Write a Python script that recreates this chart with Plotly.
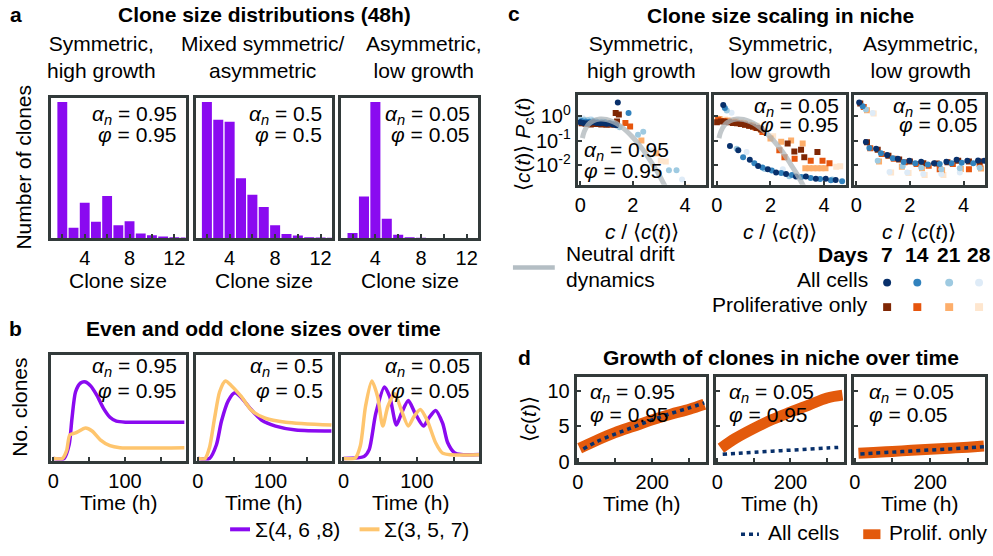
import plotly.graph_objects as go

W, H = 993, 556
FONT = "Liberation Sans, Arial, sans-serif"
BOX = "#323a3a"
PURPLE = "#8a0af0"
YELLOW = "#fec56e"
NAVY = "#08306b"
ORANGE = "#e35a0c"
GRAY = "#aeb6ba"
BLUES = ["#08306b", "#3182bd", "#9ecae1", "#deebf7"]
ORANGES = ["#7f2704", "#e6550d", "#fdae6b", "#fee6ce"]

# ---------------- panel a : clone size distributions ----------------
clone_sizes = [2, 3, 4, 5, 6, 7, 8, 9, 10, 11, 12, 13]
dist_sym = [1.0, 0.077, 0.26, 0.12, 0.31, 0.096, 0.125, 0.034, 0.022, 0.012, 0.007, 0.005]
dist_mixed = [1.0, 0.87, 0.855, 0.44, 0.32, 0.23, 0.096, 0.031, 0.019, 0.007, 0.005, 0.003]
dist_asym = [0.039, 0.306, 1.0, 0.142, 0.026, 0.007, 0.003, 0.0, 0.0, 0.0, 0.0, 0.0]
a_ticks = [4, 8, 12]
a_minor = [2, 6, 10]

# ---------------- panel b : even / odd clone sizes over time ----------------
b1_even_t = [0, 15, 22, 26, 31, 38, 45, 52, 61, 70, 79, 88, 102, 183]
b1_even_y = [0, 0, 0.14, 0.41, 0.68, 0.77, 0.78, 0.74, 0.64, 0.51, 0.42, 0.38, 0.37, 0.37]
b1_odd_t = [0, 12.5, 18.5, 23, 31, 45, 54, 65.5, 79, 93, 183]
b1_odd_y = [0, 0, 0.08, 0.24, 0.26, 0.31, 0.28, 0.19, 0.13, 0.11, 0.11]
b2_even_t = [0, 16, 25.6, 32.5, 42, 51, 60, 72, 88, 107, 135, 184]
b2_even_y = [0, 0, 0.14, 0.38, 0.59, 0.67, 0.62, 0.51, 0.39, 0.33, 0.29, 0.28]
b2_odd_t = [0, 10, 16, 23, 30, 38, 46.5, 60, 74, 93, 121, 184]
b2_odd_y = [0, 0, 0.11, 0.41, 0.68, 0.79, 0.74, 0.63, 0.49, 0.41, 0.37, 0.34]
b3_even_t = [0, 28, 35, 44, 55.8, 63, 72, 79, 88.3, 97.6, 109, 116, 125.5, 135, 142, 151, 160, 186]
b3_even_y = [0, 0.02, 0.09, 0.46, 0.73, 0.63, 0.34, 0.46, 0.59, 0.46, 0.33, 0.41, 0.49, 0.36, 0.16, 0.06, 0.04, 0.04]
b3_odd_t = [0, 16, 23, 30, 38.6, 46.5, 53.5, 60.4, 69.7, 79, 88.3, 96.2, 104.6, 114, 125.5, 135, 146, 186]
b3_odd_y = [0, 0.005, 0.13, 0.53, 0.79, 0.63, 0.33, 0.53, 0.66, 0.49, 0.33, 0.43, 0.50, 0.39, 0.16, 0.054, 0.037, 0.037]
b_ticks = [0, 100]
b_minor = [50, 150]

# ---------------- panel c : clone size scaling ----------------
neutral_x = [0.08, 0.15, 0.3, 0.5, 0.75, 1.0, 1.25, 1.5, 1.75, 2.0, 2.25, 2.5, 2.75, 3.0, 3.25, 3.4]
neutral_y = [0.125, 0.23, 0.44, 0.64, 0.75, 0.72, 0.58, 0.41, 0.25, 0.135, 0.066, 0.029, 0.011, 0.0041, 0.0013, 0.0007]
days = ["7", "14", "21", "28"]

c1_all_x = [[0.0, 0.12, 0.25, 0.37, 0.5, 0.62, 0.75, 0.87, 1.0, 1.12, 1.25, 1.37, 1.43],
            [0.05, 0.2, 0.35, 0.5, 0.65, 0.8, 0.95, 1.1, 1.25, 1.84],
            [0.0, 0.15, 0.3, 0.45, 0.6, 0.9, 1.2, 1.5, 2.2, 2.4, 3.38, 3.67],
            [0.1, 0.4, 0.8, 1.2, 2.7, 3.88]]
c1_all_y = [[0.55, 0.52, 0.5, 0.52, 0.55, 0.52, 0.5, 0.52, 0.48, 0.5, 0.45, 0.42, 3.5],
            [0.62, 0.6, 0.58, 0.6, 0.57, 0.55, 0.55, 0.5, 0.47, 1.33],
            [0.72, 0.7, 0.68, 0.66, 0.62, 0.58, 0.5, 0.35, 0.17, 0.23, 0.0062, 0.0062],
            [0.8, 0.75, 0.65, 0.55, 0.04, 0.0026]]
c1_pro_x = [[0.05, 0.2, 0.4, 0.6, 0.8, 1.0, 1.2, 1.35, 1.47, 1.4],
            [0.1, 0.3, 0.5, 0.7, 0.9, 1.1, 1.3, 1.72, 1.9],
            [0.15, 0.45, 0.75, 1.05, 1.35, 2.33, 2.9],
            [0.2, 0.6, 1.0, 3.07, 3.26, 4.06]]
c1_pro_y = [[0.5, 0.48, 0.45, 0.47, 0.45, 0.44, 0.45, 1.33, 1.14, 0.6],
            [0.55, 0.5, 0.5, 0.48, 0.47, 0.46, 0.45, 0.51, 0.37],
            [0.6, 0.55, 0.52, 0.5, 0.45, 0.1, 0.03],
            [0.7, 0.6, 0.55, 0.015, 0.014, 0.0013]]

c2_all_x = [[0.24, 0.49, 0.8, 1.23, 1.54, 1.9, 2.21, 2.58, 2.95, 3.32, 3.69, 4.06, 4.43],
            [0.3, 0.98, 1.4, 1.7, 2.05, 2.4, 2.8, 3.15, 3.5, 3.85, 4.25, 4.67],
            [0.37, 0.74, 1.78, 2.7, 4.3],
            [0.55, 1.11, 2.46, 3.07]]
c2_all_y = [[2.8, 0.06, 0.04, 0.0166, 0.0093, 0.0068, 0.005, 0.0043, 0.0034, 0.0034, 0.0028, 0.0028, 0.0025],
            [2.1, 0.021, 0.012, 0.008, 0.006, 0.0048, 0.004, 0.0033, 0.003, 0.0027, 0.0024, 0.0022],
            [1.66, 0.046, 0.007, 0.0035, 0.0026],
            [1.35, 0.034, 0.0068, 0.003]]
c2_pro_x = [[0.0, 0.15, 0.3, 0.45, 0.6, 0.75, 0.9, 1.05, 1.2, 1.35, 1.5, 1.65, 2.64, 2.89, 3.14, 3.26, 3.75],
            [0.05, 0.25, 0.45, 0.65, 0.85, 1.05, 1.25, 1.45, 1.7, 2.33, 2.52, 2.9, 3.5, 3.94, 4.2],
            [0.1, 0.4, 0.7, 1.0, 1.3, 1.6, 2.0, 2.4, 2.77, 3.2, 3.3, 3.45, 3.6, 3.75, 3.9, 4.05],
            [0.0, 0.3, 0.6, 0.9, 1.2, 1.5, 2.1, 4.45, 4.6]]
c2_pro_y = [[0.55, 0.6, 0.58, 0.55, 0.52, 0.5, 0.47, 0.44, 0.4, 0.36, 0.32, 0.28, 0.075, 0.036, 0.042, 0.021, 0.034],
            [0.7, 0.62, 0.58, 0.55, 0.5, 0.45, 0.4, 0.33, 0.22, 0.04, 0.021, 0.018, 0.015, 0.015, 0.012],
            [0.75, 0.65, 0.6, 0.52, 0.42, 0.3, 0.12, 0.089, 0.1, 0.075, 0.0075, 0.0075, 0.0075, 0.0075, 0.0075, 0.0075],
            [0.8, 0.72, 0.65, 0.58, 0.5, 0.4, 0.15, 0.0085, 0.009]]

c3_all_x = [[0.11, 0.36, 0.74, 1.15, 1.55, 1.98, 2.42, 2.9, 3.36, 3.74, 4.14, 4.54, 4.77],
            [0.24, 0.49, 0.92, 1.36, 1.77, 2.2, 2.67, 3.11, 3.55, 3.93, 4.36],
            [0.36, 0.8, 1.73, 2.42, 3.17, 3.86, 4.6],
            [0.61, 1.24, 1.9, 2.5, 3.17, 3.86]]
c3_all_y = [[3.5, 0.088, 0.046, 0.026, 0.018, 0.015, 0.0137, 0.012, 0.0137, 0.0166, 0.015, 0.0155, 0.015],
            [2.5, 0.05, 0.03, 0.019, 0.0135, 0.012, 0.0105, 0.011, 0.012, 0.0125, 0.012],
            [1.82, 0.015, 0.0089, 0.008, 0.0068, 0.0075, 0.0078],
            [1.33, 0.0053, 0.005, 0.0043, 0.0043, 0.005]]
c3_pro_x = [[0.15, 0.4, 0.8, 1.2, 1.6, 2.0, 2.5, 3.0, 3.4, 3.8, 4.2, 4.6],
            [0.28, 0.52, 0.95, 1.4, 1.8, 2.25, 2.7, 3.11, 3.6, 4.2, 4.6],
            [0.4, 0.85, 1.7, 2.45, 3.2, 3.9, 4.65],
            [0.65, 1.3, 1.95, 2.55, 3.25]]
c3_pro_y = [[3.2, 0.085, 0.042, 0.024, 0.017, 0.014, 0.012, 0.0115, 0.013, 0.015, 0.014, 0.014],
            [2.3, 0.048, 0.028, 0.018, 0.013, 0.011, 0.0095, 0.0068, 0.011, 0.0068, 0.011],
            [1.7, 0.014, 0.0085, 0.0075, 0.0062, 0.007, 0.0072],
            [1.25, 0.005, 0.0048, 0.004, 0.004]]
c_ticks = [0, 2, 4]
c_yticks = [1, 0.1, 0.01]
c_yticktext = ["10<sup>0</sup>", "10<sup>-1</sup>", "10<sup>-2</sup>"]

# ---------------- panel d : growth of clones ----------------
d1_pro_t = [5, 50, 100, 150, 200, 250, 300, 340]
d1_pro_y = [1.9, 3.0, 4.1, 5.0, 5.9, 6.7, 7.4, 8.1]
d1_all_t = [15, 50, 100, 150, 200, 250, 300, 340]
d1_all_y = [1.8, 2.8, 3.9, 4.9, 5.9, 6.8, 7.6, 8.3]
d2_pro_t = [10, 50, 100, 150, 200, 250, 300, 342]
d2_pro_y = [1.9, 3.3, 4.7, 5.95, 7.0, 8.0, 9.0, 9.4]
d2_all_t = [15, 60, 100, 150, 200, 250, 300, 342]
d2_all_y = [1.05, 1.2, 1.33, 1.48, 1.63, 1.78, 1.93, 2.05]
d3_pro_t = [10, 50, 100, 150, 200, 250, 300, 342]
d3_pro_y = [1.2, 1.3, 1.45, 1.6, 1.75, 1.9, 2.05, 2.2]
d3_all_t = [15, 50, 100, 150, 200, 250, 300, 342]
d3_all_y = [1.1, 1.2, 1.35, 1.5, 1.65, 1.8, 1.95, 2.1]
d_ticks = [0, 200]
d_minor = [100, 300]
d_yticks = [0, 5, 10]

params_a = [("0.95", "0.95"), ("0.5", "0.5"), ("0.05", "0.05")]
params_c = [("0.95", "0.95"), ("0.05", "0.95"), ("0.05", "0.05")]

# ---------------- layout helpers ----------------
def fx(px):
    return px / W

def fy(py):
    return 1 - py / H

boxes = {
    1: (47.3, 182.3, 100, 243), 2: (192.3, 329.3, 100, 243), 3: (338.5, 476, 100, 243),
    4: (47.3, 182.3, 362, 470), 5: (192.3, 329.3, 362, 470), 6: (338.5, 477, 362, 470),
    7: (576, 705, 96.7, 188.5), 8: (713, 845, 96.7, 188.5), 9: (853, 985, 96.7, 188.5),
    10: (575, 705, 385, 471), 11: (715, 843, 385, 471), 12: (853, 985, 385, 471),
}

def nm(i):
    return "" if i == 1 else str(i)

tickfont = dict(size=20, color="black", family=FONT)
layout = dict(width=W, height=H, autosize=False, margin=dict(l=0, r=0, t=0, b=0),
              paper_bgcolor="white", plot_bgcolor="white", showlegend=False,
              bargap=0.12, font=dict(family=FONT, color="black"))

def minor(vals):
    return dict(tickmode="array", tickvals=vals, ticks="inside", ticklen=4, tickwidth=2,
                tickcolor=BOX, showgrid=False)

for i, (l, r, t, b) in boxes.items():
    xa = dict(domain=[fx(l), fx(r)], anchor="y" + nm(i), showline=True, mirror=True,
              linewidth=3, linecolor=BOX, showgrid=False, zeroline=False,
              ticks="inside", ticklen=4, tickwidth=2, tickcolor=BOX, tickfont=tickfont,
              fixedrange=True)
    ya = dict(domain=[fy(b), fy(t)], anchor="x" + nm(i), showline=True, mirror=True,
              linewidth=3, linecolor=BOX, showgrid=False, zeroline=False,
              ticks="inside", ticklen=4, tickwidth=2, tickcolor=BOX, tickfont=tickfont,
              fixedrange=True)
    if i <= 3:
        xa.update(range=[1, 13], tickmode="array", tickvals=a_ticks,
                  ticktext=[str(v) for v in a_ticks], minor=minor(a_minor))
        ya.update(range=[0, 1.03], ticks="", showticklabels=False)
    elif i <= 6:
        xa.update(range=[-3.2, 184.7], tickmode="array", tickvals=b_ticks,
                  ticktext=[str(v) for v in b_ticks], minor=minor(b_minor))
        ya.update(range=[-0.023, 1.057], ticks="", showticklabels=False)
    elif i <= 9:
        xa.update(range=[-0.1, 4.8], tickmode="array", tickvals=c_ticks,
                  ticktext=[str(v) for v in c_ticks])
        ya.update(type="log", range=[-2.8, 0.86], tickmode="array", tickvals=c_yticks,
                  ticktext=c_yticktext, showticklabels=(i == 7))
    else:
        xa.update(range=[-3, 345], tickmode="array", tickvals=d_ticks,
                  ticktext=[str(v) for v in d_ticks], minor=minor(d_minor))
        ya.update(range=[0, 11.9], tickmode="array", tickvals=d_yticks,
                  ticktext=[str(v) for v in d_yticks], showticklabels=(i == 10))
    layout["xaxis" + nm(i)] = xa
    layout["yaxis" + nm(i)] = ya

fig = go.Figure()

def add(trace, i):
    trace.update(xaxis="x" + nm(i), yaxis="y" + nm(i), hoverinfo="skip")
    fig.add_trace(trace)

# panel a bars
for i, d in zip([1, 2, 3], [dist_sym, dist_mixed, dist_asym]):
    add(go.Bar(x=clone_sizes, y=d, marker=dict(color=PURPLE, line=dict(width=0))), i)

# panel b lines
for i, (et, ey, ot, oy) in zip([4, 5, 6], [(b1_even_t, b1_even_y, b1_odd_t, b1_odd_y),
                                          (b2_even_t, b2_even_y, b2_odd_t, b2_odd_y),
                                          (b3_even_t, b3_even_y, b3_odd_t, b3_odd_y)]):
    add(go.Scatter(x=et, y=ey, mode="lines", line=dict(color=PURPLE, width=3.5, shape="spline", smoothing=0.7)), i)
    add(go.Scatter(x=ot, y=oy, mode="lines", line=dict(color=YELLOW, width=3.5, shape="spline", smoothing=0.7)), i)

# panel c scatter
for i, (ax_, ay_, px_, py_) in zip([7, 8, 9], [(c1_all_x, c1_all_y, c1_pro_x, c1_pro_y),
                                              (c2_all_x, c2_all_y, c2_pro_x, c2_pro_y),
                                              (c3_all_x, c3_all_y, c3_pro_x, c3_pro_y)]):
    for k in [3, 2, 1, 0]:
        add(go.Scatter(x=px_[k], y=py_[k], mode="markers",
                       marker=dict(symbol="square", size=6, color=ORANGES[k], line=dict(width=0))), i)
    for k in [3, 2, 1, 0]:
        add(go.Scatter(x=ax_[k], y=ay_[k], mode="markers",
                       marker=dict(symbol="circle", size=6, color=BLUES[k], line=dict(width=0))), i)
    if i in (7, 8):
        add(go.Scatter(x=neutral_x, y=neutral_y, mode="lines", opacity=0.75,
                       line=dict(color=GRAY, width=5, shape="spline")), i)

# panel d lines
for i, (pt, py2, at, ay2) in zip([10, 11, 12], [(d1_pro_t, d1_pro_y, d1_all_t, d1_all_y),
                                               (d2_pro_t, d2_pro_y, d2_all_t, d2_all_y),
                                               (d3_pro_t, d3_pro_y, d3_all_t, d3_all_y)]):
    add(go.Scatter(x=pt, y=py2, mode="lines", line=dict(color=ORANGE, width=11, shape="spline")), i)
    add(go.Scatter(x=at, y=ay2, mode="lines", line=dict(color=NAVY, width=3.5, dash="4px,4px", shape="spline")), i)

# ---------------- text ----------------
ann = []

def txt(text, px, py, size=21, xanchor="center", yanchor="middle", bold=False, angle=0, align="center"):
    if bold:
        text = "<b>" + text + "</b>"
    ann.append(dict(text=text, x=fx(px), y=fy(py), xref="paper", yref="paper",
                    xanchor=xanchor, yanchor=yanchor, showarrow=False, align=align,
                    font=dict(size=size, family=FONT, color="black"), textangle=angle))

def alpha(v):
    return "<i>α</i><sub><i>n</i></sub> = " + v

def phi(v):
    return "<i>φ</i> = " + v

# panel letters and titles
txt("a", 12, 15, bold=True)
txt("b", 12, 335, bold=True)
txt("c", 512, 14, bold=True)
txt("d", 523, 365, bold=True)
txt("Clone size distributions (48h)", 262, 15, bold=True)
txt("Even and odd clone sizes over time", 261, 335, bold=True)
txt("Clone size scaling in niche", 780, 16, bold=True)
txt("Growth of clones in niche over time", 780, 365, bold=True)

# subtitles
for cx, s in zip([98, 260, 421.7], ["Symmetric,<br>high growth", "Mixed symmetric/<br>asymmetric", "Asymmetric,<br>low growth"]):
    txt(s, cx, 58)
for cx, s in zip([640, 779.5, 921], ["Symmetric,<br>high growth", "Symmetric,<br>low growth", "Asymmetric,<br>low growth"]):
    txt(s, cx, 58)

# axis titles
txt("Number of clones", 20, 170, angle=-90)
txt("No. clones", 16, 415, angle=-90)
txt("⟨<i>c</i>(<i>t</i>)⟩ <i>P</i><sub>c</sub>(<i>t</i>)", 522, 147, angle=-90)
txt("⟨<i>c</i>(<i>t</i>)⟩", 527, 428, angle=-90)
for i in (1, 2, 3):
    l, r, _, _ = boxes[i]
    txt("Clone size", (l + r) / 2, 286)
for i in (4, 5, 6):
    l, r, _, _ = boxes[i]
    txt("Time (h)", (l + r) / 2, 513)
for i in (7, 8, 9):
    l, r, _, _ = boxes[i]
    txt("<i>c</i> / ⟨<i>c</i>(<i>t</i>)⟩", (l + r) / 2, 236)
for i in (10, 11, 12):
    l, r, _, _ = boxes[i]
    txt("Time (h)", (l + r) / 2, 513.5)

# parameter labels
for xr, (a_, p_) in zip([176, 321.7, 470], params_a):
    txt(alpha(a_), xr, 117, xanchor="right")
    txt(phi(p_), xr, 137, xanchor="right")
for xr, (a_, p_) in zip([176, 322, 470], params_a):
    txt(alpha(a_), xr, 374, xanchor="right")
    txt(phi(p_), xr, 398, xanchor="right")
txt(alpha(params_c[0][0]), 580, 154, xanchor="left")
txt(phi(params_c[0][1]), 580, 174, xanchor="left")
for xr, (a_, p_) in zip([840, 980], params_c[1:]):
    txt(alpha(a_), xr, 109, xanchor="right")
    txt(phi(p_), xr, 127, xanchor="right")
for xl, (a_, p_) in zip([586.7, 726, 866.7], params_c):
    txt(alpha(a_), xl, 401, xanchor="left")
    txt(phi(p_), xl, 423, xanchor="left")

# legends
shapes = []

def line_shape(x0, x1, y, color, width, dash="solid"):
    shapes.append(dict(type="line", xref="paper", yref="paper", x0=fx(x0), x1=fx(x1),
                       y0=fy(y), y1=fy(y), line=dict(color=color, width=width, dash=dash)))

# panel b legend
line_shape(227, 247, 540, PURPLE, 4)
txt("Σ(4, 6 ,8)", 250, 540, xanchor="left")
line_shape(357, 377, 540, YELLOW, 4)
txt("Σ(3, 5, 7)", 380, 540, xanchor="left")

# panel c legend
line_shape(511, 553, 273, "#b4bec4", 4.5)
txt("Neutral drift", 562, 259, xanchor="left")
txt("dynamics", 562, 285, xanchor="left")
txt("Days", 870, 260, xanchor="right", bold=True)
day_x = [886.7, 917, 949, 979]
for dx, dl in zip(day_x, days):
    txt(dl, dx, 260, bold=True)
txt("All cells", 870, 285.5, xanchor="right")
txt("Proliferative only", 870, 311, xanchor="right")
for k, dx in enumerate(day_x):
    shapes.append(dict(type="circle", xref="paper", yref="paper", x0=fx(dx - 4), x1=fx(dx + 4),
                       y0=fy(292.3), y1=fy(284.3), fillcolor=BLUES[k], line=dict(width=0)))
    shapes.append(dict(type="rect", xref="paper", yref="paper", x0=fx(dx - 4), x1=fx(dx + 4),
                       y0=fy(317.3), y1=fy(309.3), fillcolor=ORANGES[k], line=dict(width=0)))

# panel d legend
line_shape(740, 758, 545, NAVY, 3.5, dash="4px,4px")
txt("All cells", 765, 543.5, xanchor="left")
shapes.append(dict(type="rect", xref="paper", yref="paper", x0=fx(862.7), x1=fx(880),
                   y0=fy(550), y1=fy(540), fillcolor=ORANGE, line=dict(width=0)))
txt("Prolif. only", 886.7, 543.5, xanchor="left")

layout["annotations"] = ann
layout["shapes"] = shapes
fig.update_layout(**layout)
fig.write_html("out.html", config={"displayModeBar": False, "staticPlot": True},
               post_script="document.body.style.margin='0';document.body.style.overflow='hidden';")
